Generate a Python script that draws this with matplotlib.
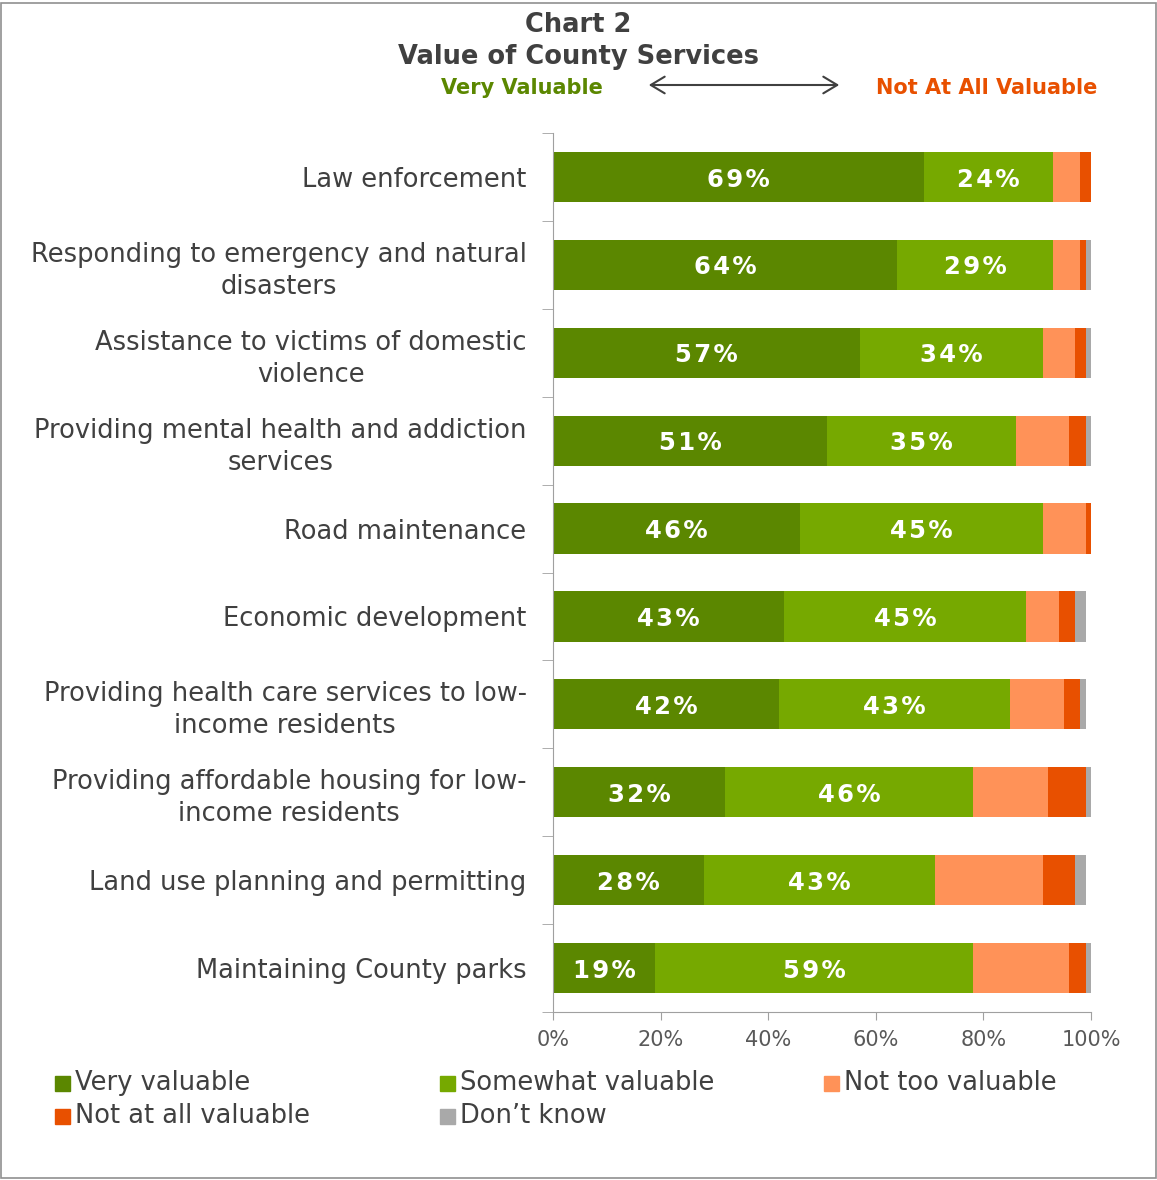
import matplotlib
matplotlib.use("Agg")
import matplotlib.pyplot as plt
from matplotlib.patches import Rectangle, FancyArrowPatch
import numpy as np

categories = [
    "Law enforcement",
    "Responding to emergency and natural\ndisasters",
    "Assistance to victims of domestic\nviolence",
    "Providing mental health and addiction\nservices",
    "Road maintenance",
    "Economic development",
    "Providing health care services to low-\nincome residents",
    "Providing affordable housing for low-\nincome residents",
    "Land use planning and permitting",
    "Maintaining County parks",
]
very_valuable = [69, 64, 57, 51, 46, 43, 42, 32, 28, 19]
somewhat_valuable = [24, 29, 34, 35, 45, 45, 43, 46, 43, 59]
not_too_valuable = [5, 5, 6, 10, 8, 6, 10, 14, 20, 18]
not_at_all_valuable = [2, 1, 2, 3, 1, 3, 3, 7, 6, 3]
dont_know = [0, 1, 1, 1, 0, 2, 1, 1, 2, 1]

series_names = ["Very valuable", "Somewhat valuable", "Not too valuable",
                "Not at all valuable", "Don\u2019t know"]
colors = ["#5B8700", "#76A900", "#FF9258", "#E85000", "#A9A9A9"]
x_ticks = [0, 20, 40, 60, 80, 100]

W, H = 1157, 1180
fig = plt.figure(figsize=(W / 100, H / 100), dpi=100)
plt.rcParams['font.family'] = ['DejaVu Sans']
txt = "#404040"

def fx(px):
    return px / W

def fy(py):
    return 1 - py / H

ax = fig.add_axes([fx(553), fy(1012), fx(1091) - fx(553), fy(133) - fy(1012)])

y = np.arange(len(categories))
series = [very_valuable, somewhat_valuable, not_too_valuable,
          not_at_all_valuable, dont_know]
left = np.zeros(len(categories))
for i, (vals, col) in enumerate(zip(series, colors)):
    vals = np.array(vals, dtype=float)
    ax.barh(y, vals, left=left, height=0.57, color=col, edgecolor="none")
    if i < 2:
        for yy, l, v in zip(y, left, vals):
            # spaced-out lettering like the original
            lab = "\u200a".join(f"{int(v)}%")
            ax.text(l + v / 2, yy + 0.03, lab, ha="center", va="center",
                    color="white", fontsize=17.5, fontweight="bold")
    left += vals

ax.set_xlim(0, 100)
ax.set_ylim(len(categories) - 0.5, -0.5)
ax.set_xticks(x_ticks)
ax.set_xticklabels([f"{t}%" for t in x_ticks], fontsize=15, color="#595959")
ax.set_yticks(y)
ax.set_yticklabels(categories, fontsize=18.5, color=txt, linespacing=1.3)
for lab in ax.get_yticklabels():
    lab.set_multialignment("center")
ax.set_yticks(np.arange(-0.5, len(categories), 1), minor=True)
ax.tick_params(axis="y", which="major", length=0, pad=19)
ax.tick_params(axis="y", which="minor", length=8, color="#A0A0A0", direction="out")
ax.tick_params(axis="x", length=6, color="#A0A0A0", pad=7)
for side in ["top", "right"]:
    ax.spines[side].set_visible(False)
for side in ["left", "bottom"]:
    ax.spines[side].set_color("#A0A0A0")

# titles
fig.text(fx(578), fy(25), "Chart 2", ha="center", va="center",
         fontsize=18.5, fontweight="bold", color=txt)
fig.text(fx(578), fy(57), "Value of County Services", ha="center", va="center",
         fontsize=18.5, fontweight="bold", color=txt)
fig.text(fx(522), fy(88), "Very Valuable", ha="center", va="center",
         fontsize=15, fontweight="bold", color="#5B8700")
fig.text(fx(987), fy(88), "Not At All Valuable", ha="center", va="center",
         fontsize=15, fontweight="bold", color="#E85000")
arrow = FancyArrowPatch((fx(646), fy(85)), (fx(842), fy(85)),
                        transform=fig.transFigure, arrowstyle="<->,head_length=10,head_width=6",
                        color=txt, lw=1.5)
fig.patches.append(arrow)

# legend
leg_pos = [(55, 1083), (440, 1083), (824, 1083), (55, 1116), (440, 1116)]
for name, col, (px, py) in zip(series_names, colors, leg_pos):
    fig.patches.append(Rectangle((fx(px), fy(py + 8)), fx(15), 15 / H,
                                 transform=fig.transFigure, color=col))
    fig.text(fx(px + 20), fy(py), name, ha="left", va="center",
             fontsize=18.5, color=txt)

# border
fig.patches.append(Rectangle((fx(1), fy(1178)), fx(1155), 1175 / H,
                             transform=fig.transFigure, fill=False,
                             edgecolor="#909090", lw=1.2))

fig.savefig("out.png", dpi=100)
